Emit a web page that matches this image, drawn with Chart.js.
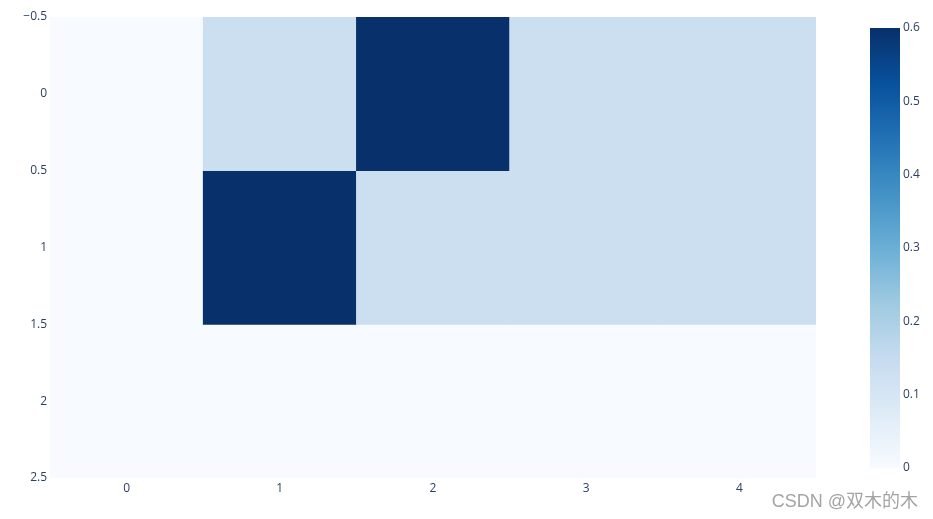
<!DOCTYPE html>
<html>
<head>
<meta charset="utf-8">
<script src="https://cdn.jsdelivr.net/npm/chart.js@4/dist/chart.umd.min.js"></script>
<style>
  body { margin: 0; background: #fff; }
</style>
</head>
<body>
<canvas id="heat" width="933" height="519"></canvas>
<script>
// heatmap values, one array per row (top to bottom)
const columns = ['0', '1', '2', '3', '4'];
const rowIndex = [0, 1, 2];
const row0 = [0, 0.1333, 0.6, 0.1333, 0.1333];
const row1 = [0, 0.6, 0.1333, 0.1333, 0.1333];
const row2 = [0, 0, 0, 0, 0];
const yTicks = [-0.5, 0, 0.5, 1, 1.5, 2, 2.5];
const cbTicks = [0, 0.1, 0.2, 0.3, 0.4, 0.5, 0.6];
const zMin = 0, zMax = 0.6;

// plotly "Blues"
const blues = [
  [247, 251, 255], [222, 235, 247], [198, 219, 239], [158, 202, 225],
  [107, 174, 214], [66, 146, 198], [33, 113, 181], [8, 81, 156], [8, 48, 107]
];

function colorFor(v) {
  let t = (v - zMin) / (zMax - zMin);
  t = Math.max(0, Math.min(1, t)) * (blues.length - 1);
  const i = Math.min(Math.floor(t), blues.length - 2);
  const f = t - i;
  const c = blues[i].map((a, k) => Math.round(a + (blues[i + 1][k] - a) * f));
  return `rgb(${c[0]},${c[1]},${c[2]})`;
}

const tickColor = '#2a3f5f';
const tickFont = { family: '"Open Sans", sans-serif', size: 12 };

const rowsData = [row0, row1, row2];
const datasets = rowIndex.map(r => ({
  data: columns.map(c => ({ x: c, y: [r - 0.5, r + 0.5] })),
  backgroundColor: rowsData[r].map(colorFor),
  borderWidth: 0,
  grouped: false,
  barPercentage: 1,
  categoryPercentage: 1
}));

const colorbar = {
  id: 'colorbar',
  afterDraw(chart) {
    const ctx = chart.ctx;
    const area = chart.chartArea;
    const x0 = area.right + 54, w = 30;
    const top = area.top + 11, bottom = area.bottom - 10;
    const g = ctx.createLinearGradient(0, bottom, 0, top);
    blues.forEach((c, i) => g.addColorStop(i / (blues.length - 1), `rgb(${c[0]},${c[1]},${c[2]})`));
    ctx.save();
    ctx.fillStyle = g;
    ctx.fillRect(x0, top, w, bottom - top);
    ctx.fillStyle = tickColor;
    ctx.font = '12px "Open Sans", sans-serif';
    ctx.textAlign = 'left';
    ctx.textBaseline = 'middle';
    cbTicks.forEach(v => {
      const y = bottom - (v - zMin) / (zMax - zMin) * (bottom - top);
      ctx.fillText(String(v), x0 + w + 3, y);
    });
    // watermark
    ctx.fillStyle = 'rgba(140,140,140,0.8)';
    ctx.font = '18px "Liberation Sans", "Noto Sans CJK SC", sans-serif';
    ctx.textAlign = 'right';
    ctx.textBaseline = 'alphabetic';
    ctx.fillText('CSDN @双木的木', 918, 507);
    ctx.restore();
  }
};

new Chart(document.getElementById('heat'), {
  type: 'bar',
  data: { labels: columns, datasets },
  options: {
    responsive: false,
    animation: false,
    layout: { padding: { top: 17, right: 117, left: 0, bottom: 0 } },
    plugins: { legend: { display: false }, tooltip: { enabled: false } },
    scales: {
      x: {
        offset: true,
        grid: { display: false, drawTicks: false },
        border: { display: false },
        ticks: { color: tickColor, font: tickFont, padding: 3, maxRotation: 0 },
        afterFit(s) { s.height = 41; }
      },
      y: {
        type: 'linear',
        reverse: true,
        min: -0.5,
        max: 2.5,
        afterBuildTicks(s) { s.ticks = yTicks.map(v => ({ value: v })); },
        grid: { display: false, drawTicks: false },
        border: { display: false },
        ticks: {
          color: tickColor, font: tickFont, padding: 3,
          callback: v => v < 0 ? '\u2212' + Math.abs(v) : String(v)
        },
        afterFit(s) { s.width = 50; }
      }
    }
  },
  plugins: [colorbar]
});
</script>
</body>
</html>
